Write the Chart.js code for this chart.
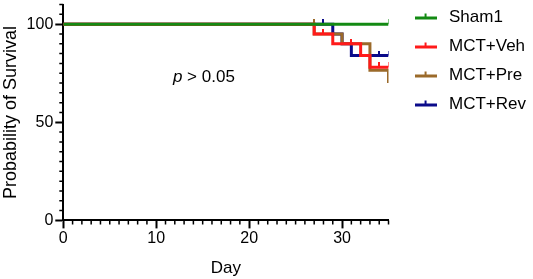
<!DOCTYPE html>
<html>
<head>
<meta charset="utf-8">
<script src="https://cdn.jsdelivr.net/npm/chart.js@4"></script>
<style>
  html, body { margin: 0; padding: 0; background: #fff; }
  #wrap { width: 533px; height: 279px; position: relative; }
</style>
</head>
<body>
<div id="wrap"><canvas id="survivalChart"></canvas></div>
<script>
// Kaplan-Meier steps (day, % survival) and censor days
const shamDays = [0, 35];
const shamSurv = [100, 100];
const shamCensor = [35];

const vehDays = [0, 27, 29, 32, 33, 35];
const vehSurv = [100, 95, 90, 84, 78, 78];
const vehCensor = [28, 31, 34, 35];

const preDays = [0, 27, 30, 33, 35];
const preSurv = [100, 95, 90, 76.5, 70];
const preCensor = [27];

const revDays = [0, 29, 30, 31, 35];
const revSurv = [100, 95, 90, 84, 84];
const revCensor = [28, 34, 35];

const seriesNames = ['Sham1', 'MCT+Veh', 'MCT+Pre', 'MCT+Rev'];
const seriesColors = ['#138a13', '#ff1a1a', '#9b6a2a', '#0b0b8a'];

const xTicks = [0, 10, 20, 30];
const yTicks = [0, 50, 100];
const annotText = { italic: 'p', rest: ' > 0.05' };

const FONT = "'Liberation Sans', Arial, Helvetica, sans-serif";

// build step points + censor marks
function buildPoints(days, surv, censor) {
  const pts = days.map((d, i) => ({ x: d, y: surv[i], c: false }));
  censor.forEach(d => {
    let y = surv[0];
    days.forEach((dd, i) => { if (dd < d) y = surv[i]; });
    pts.push({ x: d, y: y, c: true });
  });
  pts.sort((a, b) => a.x - b.x || (b.c - a.c));
  return pts;
}

// small upward tick used for censored subjects
function censorMark(color) {
  const c = document.createElement('canvas');
  c.width = 2; c.height = 10;
  const g = c.getContext('2d');
  g.fillStyle = color;
  g.fillRect(0, 0, 2, 5);
  return c;
}

function legendMark(color) {
  const c = document.createElement('canvas');
  c.width = 22; c.height = 10;
  const g = c.getContext('2d');
  g.fillStyle = color;
  g.fillRect(0, 4, 22, 3);
  g.fillRect(10, 1, 2, 4);
  return c;
}

const allDays = [shamDays, vehDays, preDays, revDays];
const allSurv = [shamSurv, vehSurv, preSurv, revSurv];
const allCensor = [shamCensor, vehCensor, preCensor, revCensor];

const datasets = seriesNames.map((name, i) => {
  const mark = censorMark(seriesColors[i]);
  return {
    label: name,
    data: buildPoints(allDays[i], allSurv[i], allCensor[i]),
    borderColor: seriesColors[i],
    backgroundColor: seriesColors[i],
    borderWidth: 3,
    stepped: true,
    pointStyle: ctx => (ctx.raw && ctx.raw.c) ? mark : 'circle',
    pointRadius: ctx => (ctx.raw && ctx.raw.c) ? 3 : 0,
    pointHoverRadius: 0,
    borderCapStyle: 'butt',
    borderJoinStyle: 'miter'
  };
});

const legendMarks = seriesColors.map(legendMark);

// minor ticks and the p-value note
const extrasPlugin = {
  id: 'extras',
  afterDraw(chart) {
    const { ctx, scales: { x, y } } = chart;
    ctx.save();
    ctx.strokeStyle = '#000';
    ctx.lineWidth = 1.5;
    ctx.beginPath();
    for (let d = 1; d <= 35; d++) {
      if (d % 10 === 0) continue;
      const px = x.getPixelForValue(d);
      ctx.moveTo(px, y.bottom);
      ctx.lineTo(px, y.bottom + 4);
    }
    for (let v = 5; v <= 110; v += 5) {
      if (v % 50 === 0) continue;
      const py = y.getPixelForValue(v);
      ctx.moveTo(x.left, py);
      ctx.lineTo(x.left - 4, py);
    }
    ctx.stroke();

    const tx = x.getPixelForValue(11.8);
    const ty = y.getPixelForValue(70.7);
    ctx.fillStyle = '#000';
    ctx.textBaseline = 'alphabetic';
    ctx.font = 'italic 17px ' + FONT;
    ctx.fillText(annotText.italic, tx, ty);
    const w = ctx.measureText(annotText.italic).width;
    ctx.font = '17px ' + FONT;
    ctx.fillText(annotText.rest, tx + w, ty);
    ctx.restore();
  }
};

new Chart(document.getElementById('survivalChart'), {
  type: 'line',
  data: { datasets },
  options: {
    responsive: true,
    maintainAspectRatio: false,
    animation: false,
    layout: { padding: { top: -3, left: 0, right: -3, bottom: 0 } },
    plugins: {
      tooltip: { enabled: false },
      legend: {
        position: 'right',
        align: 'start',
        maxWidth: 200,
        labels: {
          usePointStyle: true,
          pointStyleWidth: 30,
          padding: 12,
          color: '#000',
          font: { family: FONT, size: 17 },
          generateLabels(chart) {
            const items = Chart.defaults.plugins.legend.labels.generateLabels(chart);
            items.forEach((it, i) => { it.pointStyle = legendMarks[i]; });
            return items;
          }
        }
      }
    },
    scales: {
      x: {
        type: 'linear',
        min: 0,
        max: 35,
        afterBuildTicks: s => { s.ticks = xTicks.map(v => ({ value: v })); },
        ticks: { color: '#000', font: { family: FONT, size: 16 }, padding: 1, maxRotation: 0 },
        grid: { drawOnChartArea: false, tickLength: 8, tickWidth: 2, tickColor: '#000' },
        border: { color: '#000', width: 2 },
        title: { display: true, text: 'Day', color: '#000', font: { family: FONT, size: 17 }, padding: { top: 9, bottom: 0 } }
      },
      y: {
        type: 'linear',
        min: 0,
        max: 110,
        afterBuildTicks: s => { s.ticks = yTicks.map(v => ({ value: v })); },
        ticks: { color: '#000', font: { family: FONT, size: 16, lineHeight: '5px' }, padding: 2 },
        grid: { drawOnChartArea: false, tickLength: 8, tickWidth: 2, tickColor: '#000' },
        border: { color: '#000', width: 2 },
        title: { display: true, text: 'Probability of Survival', color: '#000', font: { family: FONT, size: 18 }, padding: { top: 0, bottom: 3 } }
      },
      // empty spacer between plot and legend
      gap: {
        type: 'linear',
        position: 'right',
        display: true,
        ticks: { display: false },
        grid: { display: false },
        border: { display: false },
        afterFit: s => { s.width = 10; }
      }
    }
  },
  plugins: [extrasPlugin]
});
</script>
</body>
</html>
